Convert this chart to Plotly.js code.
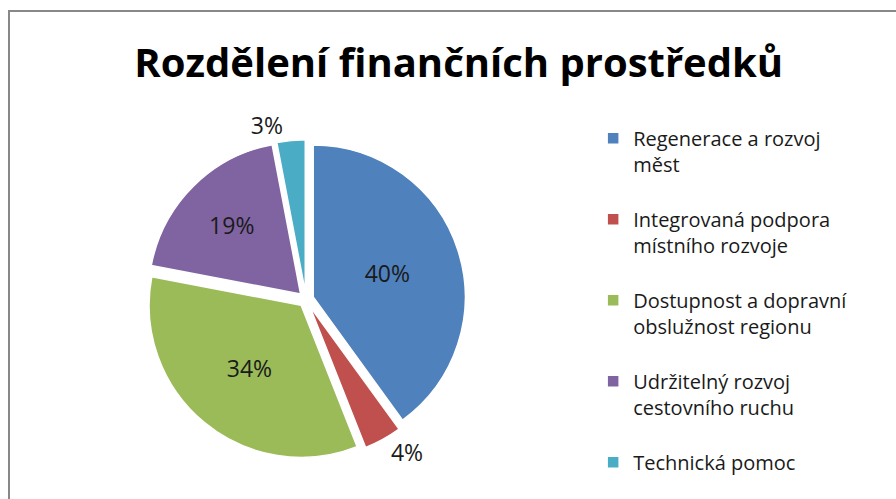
<!DOCTYPE html>
<html>
<head>
<meta charset="utf-8">
<script src="https://cdn.plot.ly/plotly-3.0.1.min.js"></script>
<style>
html,body{margin:0;padding:0;background:#fff;overflow:hidden;}
#wrap{position:relative;width:896px;height:499px;}
#chart{position:absolute;left:0;top:0;width:896px;height:499px;}
#frame{position:absolute;left:8px;top:10px;width:900px;height:500px;border-top:2px solid #888;border-left:2px solid #888;pointer-events:none;}
</style>
</head>
<body>
<div id="wrap"><div id="chart"></div><div id="frame"></div></div>
<script>
const labels = [
  "Regenerace a rozvoj<br>měst<br> ",
  "Integrovaná podpora<br>místního rozvoje<br> ",
  "Dostupnost a dopravní<br>obslužnost regionu<br> ",
  "Udržitelný rozvoj<br>cestovního ruchu<br> ",
  "Technická pomoc"
];
const values = [40, 4, 34, 19, 3];
const colors = ["#4F81BD", "#C0504D", "#9BBB59", "#8064A2", "#4BACC6"];
const textPositions = ["inside", "outside", "inside", "inside", "outside"];

const FONT = "'Open Sans', Lato, sans-serif";

const trace = {
  type: "pie",
  labels: labels,
  values: values,
  sort: false,
  direction: "clockwise",
  rotation: 0,
  pull: 0.05,
  marker: {colors: colors, line: {color: "#ffffff", width: 1.5}},
  textinfo: "percent",
  textposition: textPositions,
  insidetextorientation: "horizontal",
  textfont: {family: FONT, size: 23, color: "#1a1a1a"},
  outsidetextfont: {family: FONT, size: 23, color: "#1a1a1a"},
  insidetextfont: {family: FONT, size: 23, color: "#1a1a1a"},
  domain: {x: [0.163, 0.52], y: [0.08, 0.72]},
  hoverinfo: "none"
};

const layout = {
  width: 896,
  height: 499,
  margin: {l: 0, r: 0, t: 0, b: 0},
  paper_bgcolor: "#ffffff",
  title: {
    text: "<b>Rozdělení finančních prostředků</b>",
    font: {family: FONT, size: 40, color: "#000000"},
    x: 0.512, xanchor: "center",
    y: 0.873, yanchor: "middle"
  },
  showlegend: true,
  legend: {
    x: 0.662, xanchor: "left",
    y: 0.762, yanchor: "top",
    valign: "top",
    font: {family: FONT, size: 20, color: "#1a1a1a"},
    tracegroupgap: 0
  }
};

Plotly.newPlot("chart", [trace], layout, {displayModeBar: false, staticPlot: true});
</script>
</body>
</html>
